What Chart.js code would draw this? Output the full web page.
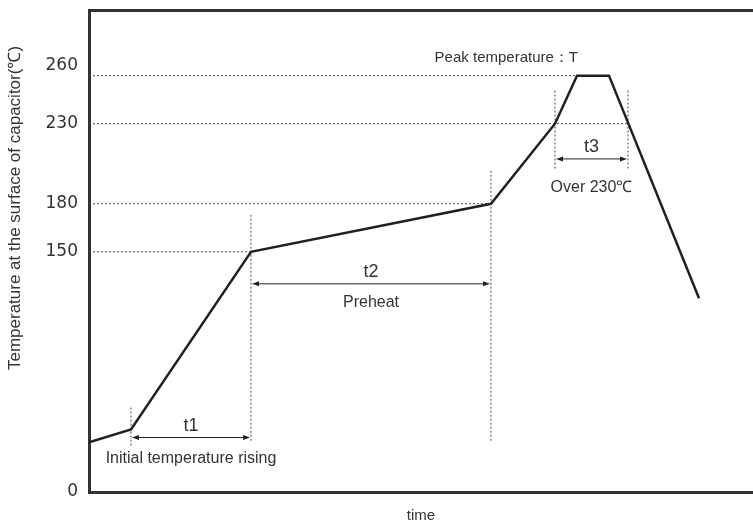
<!DOCTYPE html>
<html>
<head>
<meta charset="utf-8">
<script src="https://cdn.jsdelivr.net/npm/chart.js@4.4.0/dist/chart.umd.min.js"></script>
<style>
  html, body { margin: 0; padding: 0; background: #fff; }
</style>
</head>
<body>
<canvas id="reflowChart" width="753" height="527"></canvas>
<script>
// reflow profile (time in arbitrary units, temperature in deg C)
const profileTime = [0, 21, 81, 201, 233, 244, 260, 305];
const profileTemp = [31, 39, 150, 180, 230, 260, 260, 121];
const tempTicks = [0, 150, 180, 230, 260];

// dotted level lines: from the y axis to where the profile reaches the level
const levelTemps = [150, 180, 230, 260];
const levelEnds = [81, 201, 269.5, 244];

// dotted time markers
const markTimes = [21, 81, 201, 233, 269.5];
const markLow = [29, 32, 32, 202, 202];
const markHigh = [54, 173, 201, 252, 252];

// t1 / t2 / t3 spans
const spanNames = ["t1", "t2", "t3"];
const spanStart = [21, 81, 233];
const spanEnd = [81, 201, 269.5];
const spanTemp = [34, 130, 208];
const spanNotes = ["Initial temperature rising", "Preheat", "Over 230℃"];
const noteTemp = [21, 118, 190];

const INK = "#231f20";
const TEXT = "#333";
const FONT = "'Liberation Sans', Arial, sans-serif";

const datasets = [];
datasets.push({
  label: "profile",
  data: profileTime.map((t, i) => ({ x: t, y: profileTemp[i] })),
  borderColor: INK,
  borderWidth: 2.5,
  pointRadius: 0,
  tension: 0,
  order: 0,
});
levelTemps.forEach((v, i) => {
  datasets.push({
    label: "level " + v,
    data: [{ x: 0, y: v }, { x: levelEnds[i], y: v }],
    borderColor: "#444",
    borderWidth: 1,
    borderDash: [2, 2],
    pointRadius: 0,
    order: 1,
  });
});
markTimes.forEach((t, i) => {
  datasets.push({
    label: "mark " + t,
    data: [{ x: t, y: markLow[i] }, { x: t, y: markHigh[i] }],
    borderColor: "#444",
    borderWidth: 1,
    borderDash: [2, 2],
    pointRadius: 0,
    order: 1,
  });
});

function arrowHead(ctx, tipX, tipY, dir) {
  ctx.beginPath();
  ctx.moveTo(tipX, tipY);
  ctx.lineTo(tipX - dir * 7, tipY - 2.5);
  ctx.lineTo(tipX - dir * 7, tipY + 2.5);
  ctx.closePath();
  ctx.fill();
}

const notesPlugin = {
  id: "reflowNotes",
  afterDatasetsDraw(chart) {
    const { ctx, scales } = chart;
    const x = scales.x, y = scales.y;
    ctx.save();
    ctx.strokeStyle = INK;
    ctx.fillStyle = INK;
    ctx.lineWidth = 1;
    spanStart.forEach((s, i) => {
      const x0 = x.getPixelForValue(s) + 1;
      const x1 = x.getPixelForValue(spanEnd[i]) - 1;
      const py = y.getPixelForValue(spanTemp[i]);
      ctx.beginPath();
      ctx.moveTo(x0 + 4, py);
      ctx.lineTo(x1 - 4, py);
      ctx.stroke();
      arrowHead(ctx, x0, py, -1);
      arrowHead(ctx, x1, py, 1);

      const mid = (x0 + x1) / 2;
      ctx.fillStyle = TEXT;
      ctx.textAlign = "center";
      ctx.textBaseline = "middle";
      ctx.font = "18px " + FONT;
      ctx.fillText(spanNames[i], mid, py - 12);
      ctx.font = "16px " + FONT;
      ctx.fillText(spanNotes[i], mid, y.getPixelForValue(noteTemp[i]));
      ctx.fillStyle = INK;
    });

    // peak label
    ctx.fillStyle = TEXT;
    ctx.font = "15px " + FONT;
    ctx.textAlign = "right";
    ctx.textBaseline = "middle";
    ctx.fillText("Peak temperature：T", x.getPixelForValue(244.5), y.getPixelForValue(271));

    // y axis title (sits above the middle of the axis)
    ctx.translate(15, 208);
    ctx.rotate(-Math.PI / 2);
    ctx.textAlign = "center";
    ctx.font = "17px " + FONT;
    ctx.fillText("Temperature at the surface of capacitor(℃)", 0, 0);
    ctx.restore();
  },
};

new Chart(document.getElementById("reflowChart"), {
  type: "line",
  data: { datasets: datasets },
  options: {
    responsive: false,
    animation: false,
    layout: { padding: 0 },
    plugins: {
      legend: { display: false },
      tooltip: { enabled: false },
    },
    scales: {
      x: {
        type: "linear",
        position: "bottom",
        min: 0,
        max: 332,
        grid: { display: false, drawTicks: false },
        border: { display: true, color: "#333", width: 3 },
        ticks: { display: false },
        title: {
          display: true,
          text: "time",
          color: TEXT,
          font: { family: FONT, size: 15 },
          padding: { top: 0, bottom: 2 },
        },
        afterFit(scale) {
          scale.height = 35;
          scale.paddingLeft = 0;
          scale.paddingRight = 0;
        },
      },
      xTop: {
        type: "linear",
        axis: "x",
        position: "top",
        min: 0,
        max: 332,
        grid: { display: false, drawTicks: false },
        border: { display: true, color: "#333", width: 3 },
        ticks: { display: false },
        afterFit(scale) {
          scale.height = 10;
          scale.paddingLeft = 0;
          scale.paddingRight = 0;
        },
      },
      y: {
        type: "linear",
        min: 0,
        max: 301,
        grid: { display: false, drawTicks: false },
        border: { display: true, color: "#333", width: 3 },
        afterBuildTicks(scale) {
          scale.ticks = tempTicks.map((v) => ({ value: v }));
        },
        ticks: {
          color: TEXT,
          padding: 11,
          font: { family: "'DejaVu Sans', sans-serif", size: 17 },
          // the 260 label sits a little above its line in the original
          callback: (v) => (v === 260 ? ["260", ""] : String(v)),
        },
        afterFit(scale) {
          scale.width = 89;
          scale.paddingTop = 0;
          scale.paddingBottom = 0;
        },
      },
    },
  },
  plugins: [notesPlugin],
});
</script>
</body>
</html>
